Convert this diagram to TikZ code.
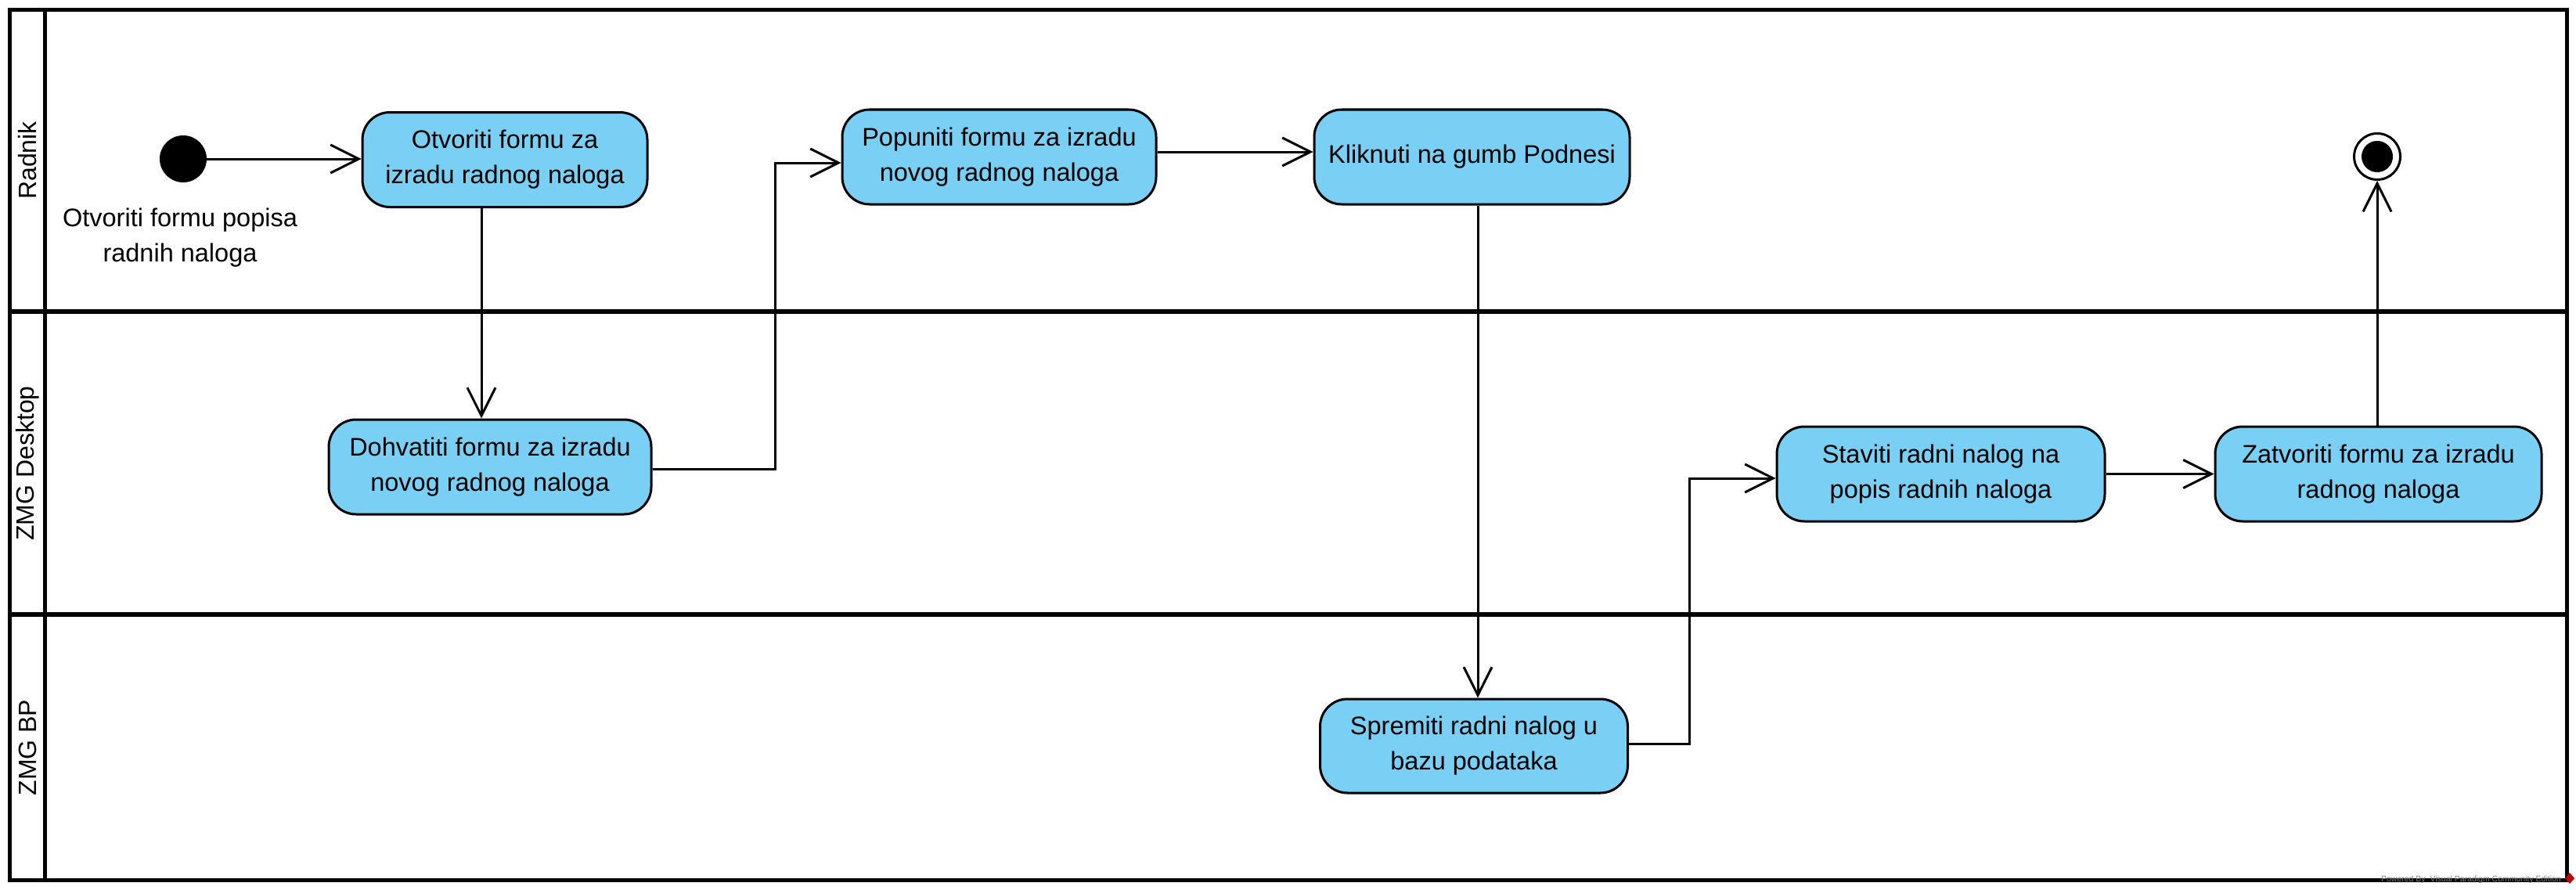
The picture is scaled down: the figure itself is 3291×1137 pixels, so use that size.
\documentclass[tikz,border=0pt]{standalone}
\usepackage{fontspec}
\setmainfont{Liberation Sans}
\usetikzlibrary{arrows.meta}
\definecolor{actblue}{RGB}{122,207,245}
\newcommand{\dgfont}{\fontsize{32.5}{45}\selectfont}
\begin{document}
\begin{tikzpicture}[x=1pt,y=-1pt,
  act/.style={draw=black,line width=3pt,fill=actblue,rounded corners=35pt,
    align=center,font=\dgfont,inner sep=0pt,minimum height=121pt},
  flow/.style={line width=3pt,-{Straight Barb[length=36pt,width=36pt]}},
  lanelbl/.style={rotate=90,font=\fontsize{32}{38}\selectfont,inner sep=0pt},
  frameline/.style={line width=5pt},
  laneline/.style={line width=6pt},
  freetext/.style={align=center,font=\dgfont,inner sep=0pt}]
\useasboundingbox (0,0) rectangle (3291,1137);
\fill[white] (0,0) rectangle (3291,1137);

% swimlanes
\draw[frameline] (12.5,13) rectangle (3279.5,1124);
\draw[frameline] (57,13) -- (57,1124);
\draw[laneline] (12.5,398) -- (3279.5,398);
\draw[laneline] (12.5,785) -- (3279.5,785);
\node[lanelbl] (l1) at (35,205) {Radnik};
\node[lanelbl] (l2) at (35,592) {ZMG Desktop};
\node[lanelbl] (l3) at (35,955) {ZMG BP};

% start / end
\node[circle,fill=black,inner sep=0pt,minimum size=60pt] (start) at (234,203) {};
\node[freetext] (startlbl) at (230,304) {Otvoriti formu popisa\\radnih naloga};
\node[circle,draw=black,line width=3pt,fill=white,inner sep=0pt,minimum size=59pt] (end) at (3037,200) {};
\node[circle,fill=black,inner sep=0pt,minimum size=40pt] (endin) at (3037,200) {};

% actions
\node[act,minimum width=364pt] (n1) at (645,204) {Otvoriti formu za\\izradu radnog naloga};
\node[act,minimum width=412pt] (n2) at (626,596.5) {Dohvatiti formu za izradu\\novog radnog naloga};
\node[act,minimum width=401pt] (n3) at (1276.5,200.5) {Popuniti formu za izradu\\novog radnog naloga};
\node[act,minimum width=403pt] (n4) at (1880.5,200.5) {Kliknuti na gumb Podnesi};
\node[act,minimum width=393pt,minimum height=120pt] (n5) at (1883,953) {Spremiti radni nalog u\\bazu podataka};
\node[act,minimum width=419pt] (n6) at (2479.5,605.5) {Staviti radni nalog na\\popis radnih naloga};
\node[act,minimum width=417pt] (n7) at (3038.5,605.5) {Zatvoriti formu za izradu\\radnog naloga};

% helper coordinates
\coordinate (xa) at (615,0);
\coordinate (xb) at (1888,0);

% flows
\draw[flow] (start.east) -- (start.east -| n1.west);
\draw[flow] (n1.south -| xa) -- (n2.north -| xa);
\draw[flow] ([yshift=-2.5pt]n2.east) -| (990,400) |- ([yshift=-7.5pt]n3.west);
\draw[flow] ([yshift=6.5pt]n3.east) -- ([yshift=6.5pt]n4.west);
\draw[flow] (n4.south -| xb) -- (n5.north -| xb);
\draw[flow] ([yshift=3pt]n5.east) -| (2158,800) |- ([yshift=-5.5pt]n6.west);
\draw[flow] (n6.east) -- (n7.west);
\draw[flow] (n7.north -| end) -- (end.south);

% watermark
\node[anchor=east,text=gray,font=\fontsize{10.5}{12}\selectfont,inner sep=0pt] (wm) at (3272,1124) {Powered By\ \ Visual Paradigm Community Edition};
\fill[red!75!black] (3283,1115) -- (3289,1122) -- (3283,1129) -- (3277,1122) -- cycle;
\end{tikzpicture}
\end{document}
